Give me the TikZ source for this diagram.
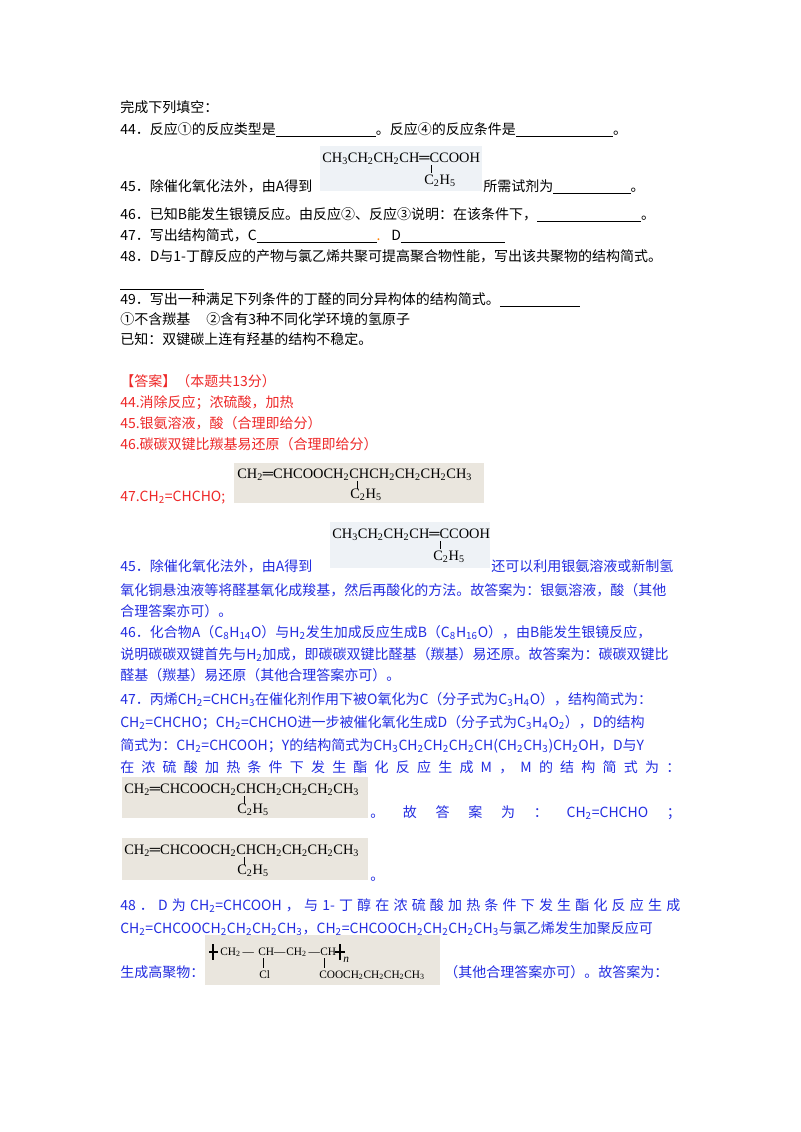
\documentclass[tikz,border=0pt]{standalone}
\usepackage{fontspec}
\setmainfont{Noto Sans CJK SC}
\newfontfamily\chemf{Liberation Serif}
\definecolor{ansred}{RGB}{238,40,40}
\definecolor{ansblue}{RGB}{35,45,225}
\definecolor{imgA}{RGB}{238,242,246}
\definecolor{imgB}{RGB}{234,230,222}
\newcommand{\dn}[1]{\textsubscript{#1}}
\newcommand{\blank}[1]{\rule[-2pt]{#1}{0.5pt}}
\begin{document}
\begin{tikzpicture}[x=0.75pt,y=-0.75pt,
  tx/.style={anchor=base west,inner sep=0pt,font=\fontsize{10.5pt}{12pt}\selectfont},
  rd/.style={tx,text=ansred},
  bl/.style={tx,text=ansblue},
  ch/.style={anchor=base west,inner sep=0pt,font=\chemf\fontsize{10.8pt}{12pt}\selectfont},
  chb/.style={anchor=base,inner sep=0pt,font=\chemf\fontsize{10.8pt}{12pt}\selectfont},
  chs/.style={anchor=base west,inner sep=0pt,font=\chemf\fontsize{8.5pt}{9pt}\selectfont}]
\useasboundingbox[fill=white] (0,0) rectangle (800,1132);
% question part
\node[tx] (q0) at (120,112) {完成下列填空：};
\node[tx] (q44) at (120,134) {44．反应①的反应类型是\blank{75pt}。反应④的反应条件是\blank{73pt}。};
\fill[imgA] (320,146) rectangle (482,191);
\node[ch] (f1) at (322,162) {CH\dn{3}CH\dn{2}CH\dn{2}CH═CCOOH};
\node[chb] (f1b) at (440,184) {C\dn{2}H\dn{5}};
\draw[thin] (431,165) -- (431,173);
\node[tx] (q45a) at (120,191) {45．除催化氧化法外，由A得到};
\node[tx] (q45b) at (483,191) {所需试剂为\blank{58pt}。};
\node[tx] (q46) at (120,219) {46．已知B能发生银镜反应。由反应②、反应③说明：在该条件下，\blank{78pt}。};
\node[tx] (q47) at (120,240) {47．写出结构简式，C\blank{90pt}\textcolor{orange}{.}\hspace{8pt}D\blank{78pt}};
\node[tx] (q48) at (120,261) {48．D与1-丁醇反应的产物与氯乙烯共聚可提高聚合物性能，写出该共聚物的结构简式。};
\node[tx] (q48b) at (120,287) {\blank{63pt}};
\node[tx] (q49) at (120,304) {49．写出一种满足下列条件的丁醛的同分异构体的结构简式。\blank{60pt}};
\node[tx] (q49a) at (120,324) {①不含羰基\hspace{12pt}②含有3种不同化学环境的氢原子};
\node[tx] (q49b) at (120,344) {已知：双键碳上连有羟基的结构不稳定。};
% answers red
\node[rd] (a0) at (120,386) {【答案】（本题共13分）};
\node[rd] (a44) at (120,407) {44.消除反应；浓硫酸，加热};
\node[rd] (a45) at (120,428) {45.银氨溶液，酸（合理即给分）};
\node[rd] (a46) at (120,449) {46.碳碳双键比羰基易还原（合理即给分）};
\fill[imgB] (234,463) rectangle (484,503);
\node[ch] (f2) at (237,478) {CH\dn{2}═CHCOOCH\dn{2}CHCH\dn{2}CH\dn{2}CH\dn{2}CH\dn{3}};
\node[chb] (f2b) at (366,498) {C\dn{2}H\dn{5}};
\draw[thin] (357,481) -- (357,489);
\node[rd] (a47) at (120,501) {47.CH\dn{2}=CHCHO;};
% blue explanation
\fill[imgA] (330,522) rectangle (490,568);
\node[ch] (f3) at (332,538) {CH\dn{3}CH\dn{2}CH\dn{2}CH═CCOOH};
\node[chb] (f3b) at (449,560) {C\dn{2}H\dn{5}};
\draw[thin] (440,541) -- (440,549);
\node[bl] (b45) at (120,571) {45．除催化氧化法外，由A得到};
\node[bl] (b45b) at (491,571) {还可以利用银氨溶液或新制氢};
\node[bl] (b45c) at (120,595) {氧化铜悬浊液等将醛基氧化成羧基，然后再酸化的方法。故答案为：银氨溶液，酸（其他};
\node[bl] (b45d) at (120,616) {合理答案亦可）。};
\node[bl] (b46) at (120,637) {46．化合物A（C\dn{8}H\dn{14}O）与H\dn{2}发生加成反应生成B（C\dn{8}H\dn{16}O），由B能发生银镜反应，};
\node[bl] (b46b) at (120,659) {说明碳碳双键首先与H\dn{2}加成，即碳碳双键比醛基（羰基）易还原。故答案为：碳碳双键比};
\node[bl] (b46c) at (120,680) {醛基（羰基）易还原（其他合理答案亦可）。};
\node[bl] (b47) at (120,704) {47．丙烯CH\dn{2}=CHCH\dn{3}在催化剂作用下被O氧化为C（分子式为C\dn{3}H\dn{4}O），结构简式为：};
\node[bl] (b47b) at (120,727) {CH\dn{2}=CHCHO；CH\dn{2}=CHCHO进一步被催化氧化生成D（分子式为C\dn{3}H\dn{4}O\dn{2}），D的结构};
\node[bl] (b47c) at (120,750) {简式为：CH\dn{2}=CHCOOH；Y的结构简式为CH\dn{3}CH\dn{2}CH\dn{2}CH\dn{2}CH(CH\dn{2}CH\dn{3})CH\dn{2}OH，D与Y};
\node[bl] (b47d) at (120,772) {\makebox[420pt][s]{在 浓 硫 酸 加 热 条 件 下 发 生 酯 化 反 应 生 成 M ， M 的 结 构 简 式 为 ：}};
\fill[imgB] (122,777) rectangle (368,818);
\node[ch] (f4) at (124,793) {CH\dn{2}═CHCOOCH\dn{2}CHCH\dn{2}CH\dn{2}CH\dn{2}CH\dn{3}};
\node[chb] (f4b) at (253,813) {C\dn{2}H\dn{5}};
\draw[thin] (244,796) -- (244,804);
\node[bl] (b47e) at (370,817) {\makebox[233pt][s]{。 故 答 案 为 ： CH\dn{2}=CHCHO ；}};
\fill[imgB] (122,838) rectangle (368,880);
\node[ch] (f5) at (124,854) {CH\dn{2}═CHCOOCH\dn{2}CHCH\dn{2}CH\dn{2}CH\dn{2}CH\dn{3}};
\node[chb] (f5b) at (253,874) {C\dn{2}H\dn{5}};
\draw[thin] (244,857) -- (244,865);
\node[bl] (b47f) at (370,880) {。};
\node[bl] (b48) at (120,910) {\makebox[420pt][s]{48 ． D 为 CH\dn{2}=CHCOOH ， 与 1- 丁 醇 在 浓 硫 酸 加 热 条 件 下 发 生 酯 化 反 应 生 成}};
\node[bl] (b48b) at (120,933) {CH\dn{2}=CHCOOCH\dn{2}CH\dn{2}CH\dn{2}CH\dn{3}，CH\dn{2}=CHCOOCH\dn{2}CH\dn{2}CH\dn{2}CH\dn{3}与氯乙烯发生加聚反应可};
\fill[imgB] (205,935) rectangle (440,985);
\draw[thick] (213,944) -- (213,960) (209,952) -- (218,952);
\node[chs] (p1) at (220,955) {CH\dn{2}\,—};
\node[chs] (p2) at (258,955) {CH—};
\node[chs] (p3) at (286,955) {CH\dn{2}\,—};
\node[chs] (p4) at (320,955) {CH};
\draw[thick] (340,944) -- (340,960) (335,952) -- (345,952);
\node[chs] (pn) at (343,962) {\textit{n}};
\node[chs] (p5) at (259,978) {Cl};
\draw[thin] (263,958) -- (263,968);
\node[chs] (p6) at (319,978) {COOCH\dn{2}CH\dn{2}CH\dn{2}CH\dn{3}};
\draw[thin] (324,958) -- (324,968);
\node[bl] (b48c) at (120,977) {生成高聚物：};
\node[bl] (b48d) at (444,977) {（其他合理答案亦可）。故答案为：};
\end{tikzpicture}
\end{document}
